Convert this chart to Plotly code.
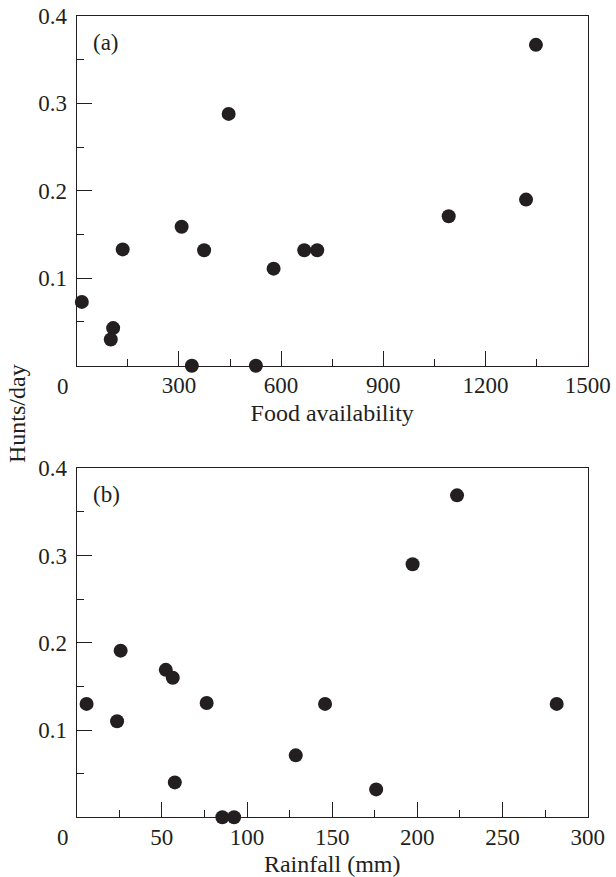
import plotly.graph_objects as go

# Panel (a): food availability vs hunts/day
food = [15, 107, 100, 135, 308, 338, 374, 446, 526, 578, 668, 706, 1092, 1319, 1348]
hunts_a = [0.073, 0.043, 0.030, 0.133, 0.159, 0.0, 0.132, 0.288, 0.0, 0.111, 0.132, 0.132, 0.171, 0.190, 0.367]

# Panel (b): rainfall vs hunts/day
rain = [5.8, 23.7, 25.8, 52.3, 56.4, 76.3, 57.6, 85.5, 92.4, 128.6, 145.8, 175.8, 197.2, 223.3, 281.8]
hunts_b = [0.130, 0.110, 0.191, 0.169, 0.160, 0.131, 0.040, 0.0, 0.0, 0.071, 0.130, 0.032, 0.290, 0.369, 0.130]

food_ticks = [300, 600, 900, 1200, 1500]
rain_ticks = [50, 100, 150, 200, 250, 300]
y_ticks = [0.1, 0.2, 0.3, 0.4]
y_tick_text = ["0.1", "0.2", "0.3", "0.4"]

INK = "#231F20"
FONT = "Liberation Serif, Times New Roman, serif"
TICK_SIZE = 23
TITLE_SIZE = 24
W, H = 616, 877

fig = go.Figure()
fig.add_trace(go.Scatter(x=food, y=hunts_a, mode="markers", xaxis="x", yaxis="y",
                         marker=dict(size=14, color=INK), cliponaxis=False, showlegend=False))
fig.add_trace(go.Scatter(x=rain, y=hunts_b, mode="markers", xaxis="x2", yaxis="y2",
                         marker=dict(size=14, color=INK), cliponaxis=False, showlegend=False))

xdom = [76.7 / W, 587.7 / W]
ydom_a = [1 - 365.7 / H, 1 - 16 / H]
ydom_b = [1 - 817.3 / H, 1 - 468.3 / H]

common_axis = dict(showline=True, linecolor=INK, linewidth=1.2, mirror=True,
                   ticks="inside", ticklen=15, tickwidth=1, tickcolor=INK,
                   showgrid=False, zeroline=False, automargin=False,
                   tickfont=dict(family=FONT, size=TICK_SIZE, color=INK))

fig.update_layout(
    width=W, height=H, margin=dict(l=0, r=0, t=0, b=0, autoexpand=False),
    paper_bgcolor="white", plot_bgcolor="white",
    xaxis=dict(domain=xdom, anchor="y", range=[0, 1500], tickmode="array",
               tickvals=food_ticks, ticktext=[str(v) for v in food_ticks],
               minor=dict(dtick=150, tick0=0, ticks="inside", ticklen=7, tickcolor=INK, showgrid=False),
               title=dict(text="Food availability", font=dict(family=FONT, size=TITLE_SIZE, color=INK), standoff=6),
               ticklabelstandoff=-1,
               **common_axis),
    yaxis=dict(domain=ydom_a, anchor="x", range=[0, 0.4], tickmode="array",
               tickvals=y_ticks, ticktext=y_tick_text,
               minor=dict(dtick=0.05, tick0=0, ticks="inside", ticklen=7, tickcolor=INK, showgrid=False),
               ticklabelstandoff=4,
               **common_axis),
    xaxis2=dict(domain=xdom, anchor="y2", range=[0, 300], tickmode="array",
                tickvals=rain_ticks, ticktext=[str(v) for v in rain_ticks],
                minor=dict(dtick=25, tick0=0, ticks="inside", ticklen=7, tickcolor=INK, showgrid=False),
                title=dict(text="Rainfall (mm)", font=dict(family=FONT, size=TITLE_SIZE, color=INK), standoff=6),
                ticklabelstandoff=-1,
                **common_axis),
    yaxis2=dict(domain=ydom_b, anchor="x2", range=[0, 0.4], tickmode="array",
                tickvals=y_ticks, ticktext=y_tick_text,
                minor=dict(dtick=0.05, tick0=0, ticks="inside", ticklen=7, tickcolor=INK, showgrid=False),
                ticklabelstandoff=4,
                **common_axis),
)

# origin "0" labels (offset left of the y axis as in the reference)
for xr, yr in (("x", "y"), ("x2", "y2")):
    fig.add_annotation(x=0, y=0, xref=xr, yref=yr, text="0", showarrow=False,
                       xanchor="center", yanchor="top", xshift=-14, yshift=-6,
                       font=dict(family=FONT, size=TICK_SIZE, color=INK))

fig.add_annotation(x=106 / W, y=1 - 43 / H, xref="paper", yref="paper", text="(a)",
                   showarrow=False, xanchor="center", yanchor="middle",
                   font=dict(family=FONT, size=TICK_SIZE, color=INK))
fig.add_annotation(x=106 / W, y=1 - 494 / H, xref="paper", yref="paper", text="(b)",
                   showarrow=False, xanchor="center", yanchor="middle",
                   font=dict(family=FONT, size=TICK_SIZE, color=INK))
fig.add_annotation(x=17 / W, y=1 - 414 / H, xref="paper", yref="paper", text="Hunts/day",
                   textangle=-90, showarrow=False, xanchor="center", yanchor="middle",
                   font=dict(family=FONT, size=TITLE_SIZE, color=INK))

fig.write_html("out.html")
